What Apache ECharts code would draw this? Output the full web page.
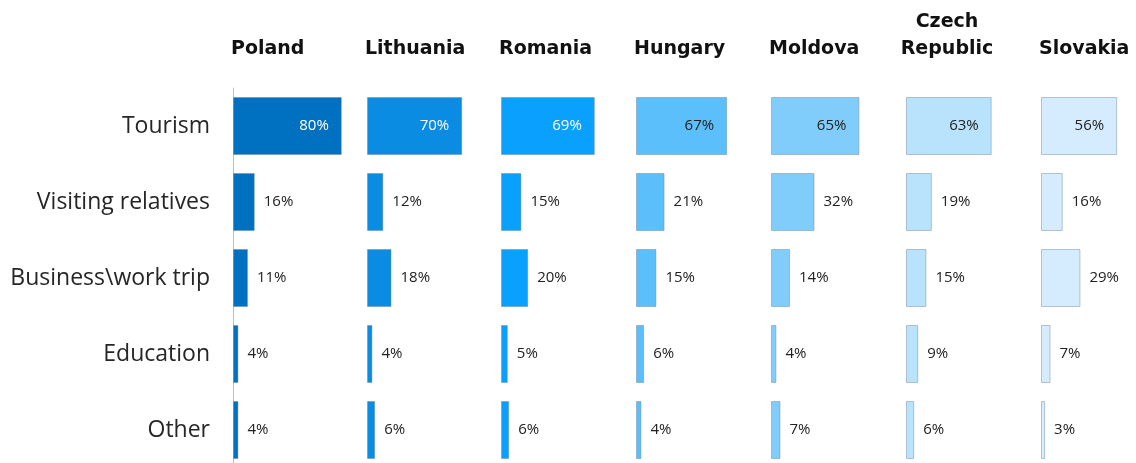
<!DOCTYPE html>
<html>
<head>
<meta charset="utf-8">
<script src="https://cdn.jsdelivr.net/npm/echarts@6/dist/echarts.min.js"></script>
<style>
html,body{margin:0;padding:0;background:#fff;overflow:hidden;}
#chart{width:1136px;height:470px;}
</style>
</head>
<body>
<div id="chart"></div>
<script>
// 类别与国家
var purposes = ['Tourism', 'Visiting relatives', 'Business\\work trip', 'Education', 'Other'];
var countries = ['Poland', 'Lithuania', 'Romania', 'Hungary', 'Moldova', 'Czech\nRepublic', 'Slovakia'];
// 各国数据 (%)
var poland = [80, 16, 11, 4, 4];
var lithuania = [70, 12, 18, 4, 6];
var romania = [69, 15, 20, 5, 6];
var hungary = [67, 21, 15, 6, 4];
var moldova = [65, 32, 14, 4, 7];
var czech = [63, 19, 15, 9, 6];
var slovakia = [56, 16, 29, 7, 3];

var allData = [poland, lithuania, romania, hungary, moldova, czech, slovakia];
var colors = ['#0070C0', '#0A8CE2', '#0AA0FD', '#5BBFFC', '#80CDFC', '#B9E3FD', '#D4ECFD'];
var insideLabelColor = ['#fff', '#fff', '#fff', '#222', '#222', '#222', '#222'];
var gridLeft = [233, 367, 501, 636, 771, 906, 1041];
var pxPerPct = 1.36;
var font = '"Open Sans", Lato, sans-serif';
var titleFont = '"DejaVu Sans", sans-serif';

var myChart = echarts.init(document.getElementById('chart'));
var grids = [], xAxes = [], yAxes = [], series = [], titles = [];

for (var i = 0; i < countries.length; i++) {
	// 保持每个小图的比例一致，最后一个不要超出画布
	var w = Math.min(136, 1136 - gridLeft[i]);
	grids.push({left: gridLeft[i], top: 88, width: w, height: 380});
	xAxes.push({
		gridIndex: i, type: 'value', min: 0, max: w / pxPerPct, show: false
	});
	yAxes.push({
		gridIndex: i, type: 'category', data: purposes, inverse: true,
		axisTick: {show: false},
		axisLine: {show: i == 0, lineStyle: {color: '#BFBFBF', width: 1}},
		axisLabel: {show: i == 0, margin: 23, fontFamily: font, fontSize: 23, color: '#262626'}
	});
	var items = [];
	for (var j = 0; j < purposes.length; j++) {
		var inside = j == 0;
		items.push({
			value: allData[i][j],
			label: {
				position: inside ? 'insideRight' : 'right',
				distance: inside ? 13 : 9,
				color: inside ? insideLabelColor[i] : '#222'
			}
		});
	}
	series.push({
		type: 'bar', xAxisIndex: i, yAxisIndex: i,
		data: items, barWidth: 58,
		itemStyle: {color: colors[i], borderColor: 'rgba(110,130,150,0.45)', borderWidth: 1},
		label: {show: true, formatter: '{c}%', fontFamily: font, fontSize: 15},
		silent: true
	});
	var isCzech = i == 5;
	titles.push({
		text: countries[i],
		left: isCzech ? 942 : gridLeft[i] - 7,
		textAlign: isCzech ? 'center' : 'left',
		top: isCzech ? 4 : 31,
		textStyle: {fontFamily: titleFont, fontSize: 19, fontWeight: 'bold', color: '#111', lineHeight: 27}
	});
}

var option = {
	animation: false,
	title: titles,
	grid: grids,
	xAxis: xAxes,
	yAxis: yAxes,
	series: series
};
myChart.setOption(option);
</script>
</body>
</html>
